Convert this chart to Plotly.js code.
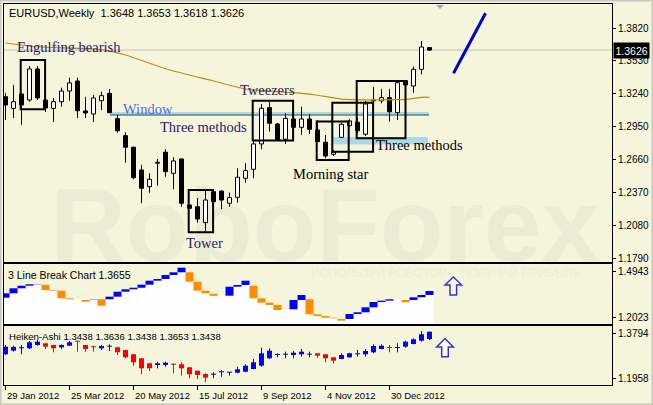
<!DOCTYPE html>
<html><head><meta charset="utf-8">
<script src="https://cdn.plot.ly/plotly-3.0.1.min.js"></script>
<style>html,body{margin:0;padding:0;background:#f5f5dc;}#chart{width:653px;height:405px;}</style>
</head><body><div id="chart"></div>
<script>
const W = 653, H = 405;

// ---- main chart: EURUSD weekly candles (week index 0 = 29 Jan 2012) ----
const candleOpen  = [1.3216,1.3114,1.3240,1.3187,1.3460,1.3187,1.3114,1.3172,1.3266,1.3354,1.3091,1.3064,1.3181,1.3246,1.3023,1.2874,1.2772,1.2572,1.2425,1.2631,1.2728,1.2543,1.2669,1.2264,1.2249,1.2109,1.2381,1.2387,1.2279,1.2332,1.2499,1.2578,1.2801,1.3120,1.2976,1.2842,1.3020,1.2947,1.3020,1.2924,1.2816,1.2710,1.2859,1.2961,1.2991,1.2886,1.3179,1.3179,1.3208,1.3076,1.3357,1.3310,1.3457,1.3648];
const candleHigh  = [1.3249,1.3319,1.3249,1.3486,1.3486,1.3205,1.3205,1.3295,1.3383,1.3383,1.3214,1.3231,1.3260,1.3284,1.3055,1.2903,1.2777,1.2616,1.2543,1.2669,1.2754,1.2684,1.2669,1.2273,1.2326,1.2390,1.2396,1.2390,1.2373,1.2587,1.2631,1.2836,1.3152,1.3172,1.2985,1.3070,1.3082,1.3128,1.3064,1.3012,1.2880,1.2748,1.2988,1.3018,1.3026,1.3179,1.3302,1.3284,1.3284,1.3363,1.3363,1.3480,1.3706,1.3653];
const candleLow   = [1.3012,1.3029,1.2968,1.3172,1.3187,1.3082,1.2994,1.3128,1.3181,1.3029,1.3029,1.2994,1.3099,1.3070,1.2900,1.2636,1.2490,1.2279,1.2372,1.2434,1.2513,1.2402,1.2249,1.2229,1.2109,1.2030,1.2282,1.2227,1.2249,1.2285,1.2460,1.2499,1.2754,1.2909,1.2827,1.2801,1.2924,1.2880,1.2888,1.2818,1.2675,1.2695,1.2851,1.2953,1.2895,1.2871,1.3055,1.3158,1.2997,1.3012,1.3310,1.3251,1.3413,1.3618];
const candleClose = [1.3143,1.3172,1.3143,1.3460,1.3205,1.3117,1.3172,1.3266,1.3337,1.3093,1.3073,1.3205,1.3225,1.3076,1.2917,1.2772,1.2504,1.2411,1.2490,1.2636,1.2557,1.2651,1.2279,1.2235,1.2141,1.2308,1.2293,1.2308,1.2329,1.2508,1.2566,1.2801,1.3114,1.2983,1.2836,1.3026,1.2947,1.3020,1.2930,1.2821,1.2695,1.2730,1.2974,1.3003,1.2917,1.3152,1.3183,1.3208,1.3084,1.3339,1.3319,1.3457,1.3653,1.3626];

// moving average readings (week index, value)
const maIdx = [0,4,12,15,20,26,30,37,39,42,50,52,53];
const maVal = [1.3688,1.3655,1.3630,1.3583,1.3462,1.3354,1.3284,1.3246,1.3229,1.3195,1.3192,1.3211,1.3211];

// ---- 3 Line Break pane ----
const tlbLo  = [1.3278,1.3560,1.3880,1.4047,1.4136,1.3771,1.3726,1.3240,1.3176,1.3176,1.3022,1.3131,1.2766,1.3176,1.3342,1.3662,1.3816,1.3918,1.4111,1.4367,1.4476,1.4732,1.4905,1.4303,1.3726,1.3560,1.3400,1.3400,1.3406,1.3982,1.4091,1.3240,1.2958,1.2811,1.2490,1.2490,1.2535,1.3131,1.2215,1.2106,1.1997,1.1959,1.1805,1.1914,1.2234,1.2343,1.2663,1.3003,1.3086,1.3131,1.2984,1.3131,1.3304,1.3451];
const tlbHi  = [1.3560,1.3880,1.4047,1.4136,1.4155,1.4091,1.3771,1.3726,1.3240,1.3176,1.3131,1.3150,1.3176,1.3342,1.3662,1.3816,1.3918,1.4111,1.4367,1.4476,1.4732,1.4905,1.5199,1.4905,1.4303,1.3726,1.3530,1.3400,1.3982,1.4091,1.4367,1.4047,1.3240,1.2958,1.2811,1.2490,1.3131,1.3451,1.3176,1.2215,1.2106,1.1997,1.1914,1.2234,1.2343,1.2663,1.3003,1.3086,1.3176,1.3131,1.3131,1.3304,1.3451,1.3707];
const tlbDir = ['u','u','u','u','u','d','d','d','d','','d','u','d','u','u','u','u','u','u','u','u','u','u','d','d','d','d','','u','u','u','d','d','d','d','','u','u','d','d','d','d','d','u','u','u','u','u','u','','d','u','u','u'];

// ---- Heiken-Ashi pane ----
const haOpen  = [1.2953,1.3102,1.3201,1.3201,1.3338,1.3408,1.3338,1.3243,1.3309,1.3504,1.3338,1.3268,1.3201,1.3268,1.3243,1.3131,1.2953,1.2787,1.2580,1.2509,1.2509,1.2551,1.2538,1.2414,1.2273,1.2136,1.2107,1.2207,1.2190,1.2190,1.2232,1.2343,1.2480,1.2787,1.2924,1.2936,1.2924,1.2953,1.2936,1.2994,1.2953,1.2828,1.2758,1.2828,1.2953,1.2953,1.3035,1.3172,1.3243,1.3214,1.3268,1.3379,1.3516,1.3587];
const haHigh  = [1.3338,1.3309,1.3338,1.3504,1.3545,1.3408,1.3338,1.3367,1.3504,1.3504,1.3338,1.3309,1.3338,1.3367,1.3243,1.3131,1.2953,1.2787,1.2580,1.2646,1.2646,1.2580,1.2621,1.2414,1.2273,1.2165,1.2207,1.2302,1.2215,1.2439,1.2538,1.2758,1.3226,1.3201,1.2994,1.3060,1.3089,1.3172,1.3060,1.2994,1.2953,1.2828,1.2994,1.3019,1.3131,1.3172,1.3367,1.3367,1.3338,1.3408,1.3516,1.3616,1.3918,1.3889];
const haLow   = [1.2924,1.3060,1.2953,1.3172,1.3309,1.3172,1.3035,1.3172,1.3297,1.3060,1.3060,1.3060,1.3131,1.3089,1.2924,1.2787,1.2468,1.2124,1.2260,1.2372,1.2439,1.2165,1.2066,1.1958,1.1929,1.1792,1.1958,1.2024,1.2066,1.2165,1.2207,1.2331,1.2439,1.2758,1.2828,1.2787,1.2787,1.2853,1.2828,1.2812,1.2621,1.2580,1.2745,1.2812,1.2853,1.2853,1.2994,1.3160,1.3035,1.3035,1.3226,1.3367,1.3475,1.3545];
const haClose = [1.3268,1.3255,1.3226,1.3450,1.3475,1.3268,1.3201,1.3338,1.3450,1.3475,1.3172,1.3243,1.3297,1.3297,1.3035,1.2828,1.2621,1.2372,1.2372,1.2580,1.2604,1.2522,1.2372,1.2124,1.2095,1.1983,1.2136,1.2232,1.2207,1.2331,1.2480,1.2621,1.2994,1.3102,1.2953,1.2965,1.3019,1.3060,1.2965,1.2895,1.2787,1.2687,1.2924,1.2994,1.2994,1.3089,1.3297,1.3309,1.3214,1.3243,1.3475,1.3574,1.3781,1.3889];

// ---- axis ticks ----
const dateTickIdx  = [0,8,16,24,32,40,48];
const dateTickText = ['29 Jan 2012','25 Mar 2012','20 May 2012','15 Jul 2012','9 Sep 2012','4 Nov 2012','30 Dec 2012'];
const mainTicks = [1.1790,1.2080,1.2370,1.2660,1.2950,1.3240,1.3530,1.3820];
const tlbTicks  = [1.4943,1.2023];
const haTicks   = [1.3794,1.1958];
const lastPrice = 1.3626;

// ---------------------------------------------------------------
const idx = candleOpen.map((_, i) => i);
const BG = '#f5f5dc';
const SANS = 'Liberation Sans, Arial, sans-serif';
const SERIF = 'Liberation Serif, Times New Roman, serif';
const px = v => v / W, py = v => 1 - v / H;

// main wicks (outside body)
const wx = [], wy = [];
idx.forEach(i => {
  const top = Math.max(candleOpen[i], candleClose[i]), bot = Math.min(candleOpen[i], candleClose[i]);
  wx.push(i, i, null, i, i, null);
  wy.push(candleHigh[i], top, null, bot, candleLow[i], null);
});
const bodyBase = idx.map(i => Math.min(candleOpen[i], candleClose[i]));
const bodyH = idx.map(i => Math.max(Math.abs(candleClose[i] - candleOpen[i]), 0.0009));
const bodyCol = idx.map(i => candleClose[i] >= candleOpen[i] ? '#ffffff' : '#000000');

const Y2MIN = 1.1594, Y2MAX = 1.5436;
const Y3MIN = 1.1680, Y3MAX = 1.4125;

// HA wicks
const hbx = [], hby = [], hrx = [], hry = [];
idx.forEach(i => {
  const up = haClose[i] >= haOpen[i];
  (up ? hbx : hrx).push(i, i, null);
  (up ? hby : hry).push(haHigh[i], haLow[i], null);
});

const traces = [
  {type:'scatter', mode:'lines', x:wx, y:wy, xaxis:'x', yaxis:'y', line:{color:'#000', width:1}, hoverinfo:'skip'},
  {type:'bar', x:idx, base:bodyBase, y:bodyH, width:0.5, xaxis:'x', yaxis:'y',
   marker:{color:bodyCol, line:{color:'#000', width:1}}},
  {type:'scatter', mode:'lines', x:maIdx, y:maVal, xaxis:'x', yaxis:'y', line:{color:'#c8880f', width:1.2, shape:'spline', smoothing:0.6}},
  // 3 line break
  {type:'bar', x:idx, base:idx.map(() => Y2MIN), y:tlbLo.map(v => v - Y2MIN), width:1, xaxis:'x2', yaxis:'y2',
   marker:{color:'#ffffff', line:{width:0}}},
  {type:'bar', x:idx, base:tlbLo, y:idx.map(i => tlbDir[i] ? tlbHi[i] - tlbLo[i] : null), width:1, xaxis:'x2', yaxis:'y2',
   marker:{color:tlbDir.map(d => d === 'u' ? '#0000ff' : '#ff8c00'), line:{width:0}}},
  // heiken ashi
  {type:'scatter', mode:'lines', x:hbx, y:hby, xaxis:'x3', yaxis:'y3', line:{color:'#0000ff', width:1}},
  {type:'scatter', mode:'lines', x:hrx, y:hry, xaxis:'x3', yaxis:'y3', line:{color:'#ff0000', width:1}},
  {type:'bar', x:idx, base:idx.map(i => Math.min(haOpen[i], haClose[i])),
   y:idx.map(i => Math.max(Math.abs(haClose[i] - haOpen[i]), 0.0042)), width:0.625, xaxis:'x3', yaxis:'y3',
   marker:{color:idx.map(i => haClose[i] >= haOpen[i] ? '#0000ff' : '#ff0000'), line:{width:0}}}
];

const XR = [-0.1875, 75.8125];
const xdom = [px(4), px(612)];
const tickFont = {family:SANS, size:10, color:'#000'};
const baseX = {range:XR, domain:xdom, showgrid:false, zeroline:false, showline:true, mirror:true, linecolor:'#000', linewidth:1, fixedrange:true};
const baseY = {side:'right', showgrid:false, zeroline:false, showline:true, mirror:true, linecolor:'#000', linewidth:1,
  ticks:'outside', ticklen:3, tickcolor:'#000', tickfont:tickFont, tickformat:'.4f', fixedrange:true};

// box helper (week index / price)
const box = (i0, i1, p0, p1) => ({type:'rect', xref:'x', yref:'y', x0:i0, x1:i1, y0:p0, y1:p1, line:{color:'#000', width:2}, fillcolor:'rgba(0,0,0,0)'});
const arrowPath = (cx, top, headY, bottom, half, shaft) =>
  `M${px(cx)},${py(top)} L${px(cx+half)},${py(headY)} L${px(cx+shaft)},${py(headY)} L${px(cx+shaft)},${py(bottom)} L${px(cx-shaft)},${py(bottom)} L${px(cx-shaft)},${py(headY)} L${px(cx-half)},${py(headY)} Z`;

const shapes = [
  // watermarks (behind data)
  {type:'rect', xref:'paper', yref:'paper', x0:px(50), x1:px(600), y0:py(262), y1:py(168), layer:'below', line:{width:0}, fillcolor:'rgba(0,0,0,0)',
   label:{text:'<b>RoboForex</b>', font:{family:SANS, size:104, color:'#ececd5'}, textposition:'middle center'}},
  {type:'rect', xref:'paper', yref:'paper', x0:px(305), x1:px(600), y0:py(279), y1:py(266), layer:'below', line:{width:0}, fillcolor:'rgba(0,0,0,0)',
   label:{text:'ИСПОЛЬЗУЙ РОБОТОВ – ПОЛУЧАЙ ПРИБЫЛЬ', font:{family:SANS, size:12, color:'#ededda'}, textposition:'middle left'}},
  // last price line
  {type:'line', xref:'x domain', yref:'y', x0:0, x1:1, y0:lastPrice, y1:lastPrice, layer:'below', line:{color:'#c0c0c0', width:1}},
  // window line
  {type:'rect', xref:'x', yref:'y', x0:13.05, x1:52.95, y0:1.3055, y1:1.3082, layer:'below', line:{width:0}, fillcolor:'#add8e6'},
  {type:'line', xref:'x', yref:'y', x0:13.05, x1:52.95, y0:1.3055, y1:1.3055, layer:'below', line:{color:'#2f4f4f', width:1}},
  // lower band
  {type:'rect', xref:'x', yref:'y', x0:40.95, x1:52.8, y0:1.2796, y1:1.2862, layer:'below', line:{width:0}, fillcolor:'#add8e6'},
  // pattern boxes
  box(1.9, 4.95, 1.3106, 1.3539),
  box(22.9, 25.95, 1.2024, 1.2396),
  box(30.9, 35.95, 1.2830, 1.3181),
  box(38.9, 42.9, 1.2660, 1.2997),
  box(40.85, 45.95, 1.2733, 1.3164),
  box(43.9, 50.0, 1.2851, 1.3354),
  // trend line
  {type:'line', xref:'x', yref:'y', x0:56, x1:60, y0:1.3422, y1:1.3949, line:{color:'#0000cd', width:3}},
  // chart-shift marker
  {type:'path', xref:'paper', yref:'paper', path:`M${px(436)},${py(5)} L${px(444)},${py(5)} L${px(440)},${py(9)} Z`, fillcolor:'#a8a8a8', line:{width:0}},
  // arrows
  {type:'path', xref:'paper', yref:'paper', path:arrowPath(453.3, 277, 285, 295, 8.3, 3.3), line:{color:'#3535d0', width:1.5}, fillcolor:'rgba(255,255,255,0.4)'},
  {type:'path', xref:'paper', yref:'paper', path:arrowPath(445, 338.5, 347, 356.7, 8.3, 3.3), line:{color:'#3535d0', width:1.5}, fillcolor:'rgba(255,255,255,0.4)'},
  // outer frame
  {type:'rect', xref:'paper', yref:'paper', x0:0, x1:1, y0:0, y1:1, line:{color:'#c8c8c0', width:3}, fillcolor:'rgba(0,0,0,0)'}
];

const lab = (text, x, y, color, size) => ({xref:'paper', yref:'paper', x:px(x), y:py(y), xanchor:'left', yanchor:'middle', showarrow:false,
  text:text, font:{family:SERIF, size:size || 14.5, color:color}, borderpad:0});
const info = (text, x, y, size) => ({xref:'paper', yref:'paper', x:px(x), y:py(y), xanchor:'left', yanchor:'middle', showarrow:false,
  text:text, font:{family:SANS, size:size || 11, color:'#000'}, borderpad:0});

const annotations = [
  info('EURUSD,Weekly  1.3648 1.3653 1.3618 1.3626', 8, 13),
  info('3 Line Break Chart 1.3655', 7, 275, 10.5),
  info('Heiken-Ashi 1.3438 1.3636 1.3438 1.3653 1.3438', 8, 336, 9.6),
  lab('Engulfing bearish', 16, 47, '#24206e'),
  lab('Tweezers', 239, 89.5, '#24206e'),
  lab('Window', 122, 109, '#4f6cf0'),
  lab('Three methods', 159, 126.5, '#24206e'),
  lab('Three methods', 375, 145, '#000000'),
  lab('Morning star', 292, 174, '#000000'),
  lab('Tower', 185, 243, '#24206e'),
  {xref:'paper', yref:'y', x:px(613), y:lastPrice, xanchor:'left', yanchor:'middle', showarrow:false, text:'1.3626',
   font:{family:SANS, size:10.5, color:'#ffffff'}, bgcolor:'#000000', borderpad:1.5}
];
// date labels, left-aligned at their tick
dateTickIdx.forEach((t, k) => annotations.push({xref:'x3', yref:'paper', x:t, y:py(395), xanchor:'left', yanchor:'middle',
  showarrow:false, text:dateTickText[k], font:{family:SANS, size:9.5, color:'#000'}, borderpad:0}));

const layout = {
  width:W, height:H, margin:{l:0, r:0, t:0, b:0},
  paper_bgcolor:BG, plot_bgcolor:BG, showlegend:false, barmode:'overlay', hovermode:false,
  xaxis: Object.assign({}, baseX, {anchor:'y', showticklabels:false, ticks:''}),
  yaxis: Object.assign({}, baseY, {anchor:'x', domain:[py(262), py(4)], range:[1.1763, 1.4031], tickvals:mainTicks}),
  xaxis2: Object.assign({}, baseX, {anchor:'y2', showticklabels:false, ticks:''}),
  yaxis2: Object.assign({}, baseY, {anchor:'x2', domain:[py(324), py(264)], range:[Y2MIN, Y2MAX], tickvals:tlbTicks}),
  xaxis3: Object.assign({}, baseX, {anchor:'y3', tickvals:dateTickIdx, showticklabels:false, ticks:'outside', ticklen:4, tickcolor:'#000'}),
  yaxis3: Object.assign({}, baseY, {anchor:'x3', domain:[py(385), py(326)], range:[Y3MIN, Y3MAX], tickvals:haTicks}),
  shapes:shapes, annotations:annotations
};

Plotly.newPlot('chart', traces, layout, {staticPlot:true, displayModeBar:false});
</script>
</body></html>
